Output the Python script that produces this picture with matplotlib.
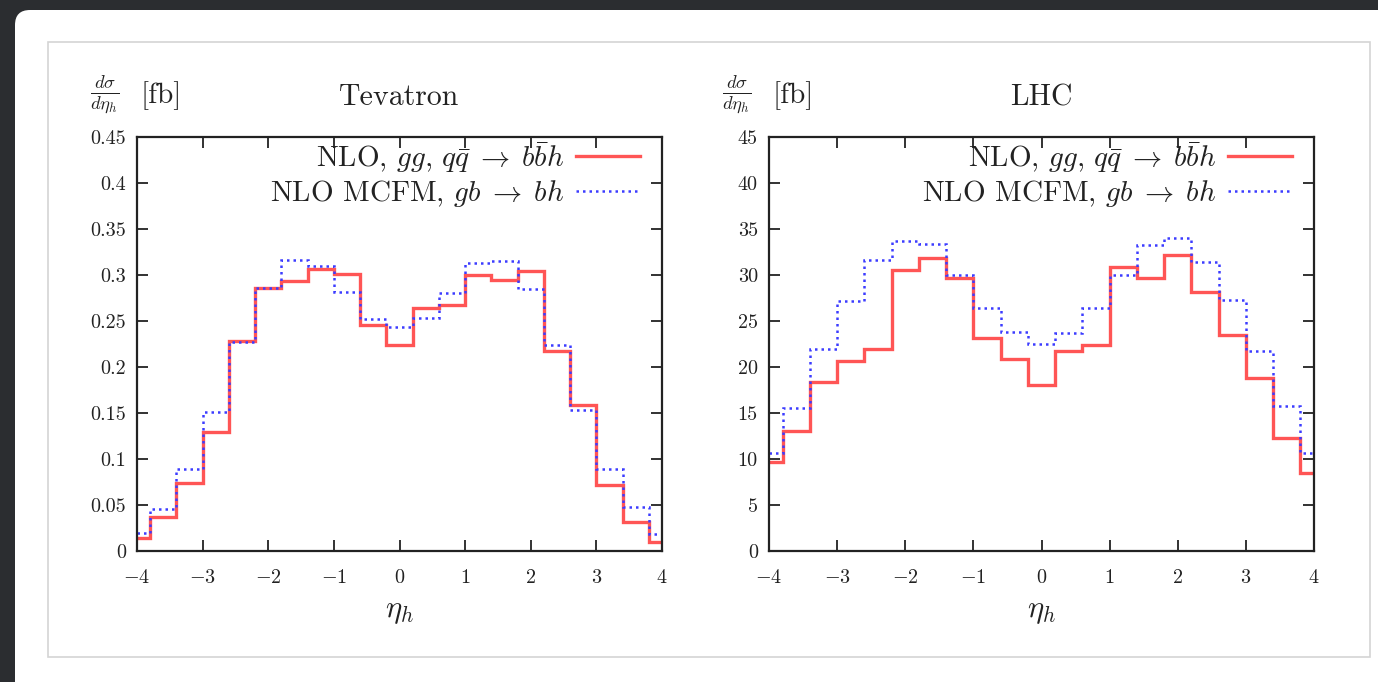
import matplotlib
matplotlib.use("Agg")
import matplotlib.pyplot as plt
from matplotlib.patches import FancyBboxPatch, Rectangle
from matplotlib.ticker import FuncFormatter

plt.rcParams['font.family'] = 'cmr10'
plt.rcParams['mathtext.fontset'] = 'cm'
plt.rcParams['axes.formatter.use_mathtext'] = True

# bin edges in eta_h (narrow bins at both ends)
edges = [-4, -3.8, -3.4, -3.0, -2.6, -2.2, -1.8, -1.4, -1.0, -0.6, -0.2,
         0.2, 0.6, 1.0, 1.4, 1.8, 2.2, 2.6, 3.0, 3.4, 3.8, 4]

# Tevatron, dsigma/deta_h [fb]
tev_nlo = [0.014, 0.037, 0.074, 0.129, 0.228, 0.286, 0.293, 0.307, 0.301, 0.246, 0.224,
           0.264, 0.267, 0.300, 0.295, 0.304, 0.217, 0.159, 0.072, 0.031, 0.010]
tev_mcfm = [0.020, 0.046, 0.089, 0.151, 0.227, 0.286, 0.316, 0.310, 0.282, 0.252, 0.243,
            0.253, 0.280, 0.313, 0.315, 0.285, 0.224, 0.153, 0.089, 0.048, 0.019]

# LHC, dsigma/deta_h [fb]
lhc_nlo = [9.7, 13.0, 18.4, 20.6, 22.0, 30.5, 31.9, 29.7, 23.1, 20.9, 18.0,
           21.7, 22.4, 30.9, 29.7, 32.2, 28.1, 23.5, 18.8, 12.3, 8.5]
lhc_mcfm = [10.7, 15.5, 22.0, 27.2, 31.6, 33.7, 33.4, 30.0, 26.4, 23.8, 22.5,
            23.7, 26.4, 30.0, 33.3, 34.0, 31.4, 27.3, 21.7, 15.8, 10.7]

xticks = [-4, -3, -2, -1, 0, 1, 2, 3, 4]
tev_yticks = [0, 0.05, 0.1, 0.15, 0.2, 0.25, 0.3, 0.35, 0.4, 0.45]
lhc_yticks = [0, 5, 10, 15, 20, 25, 30, 35, 40, 45]

label_nlo = r'NLO, $gg,\, q\bar{q} \;\rightarrow\; b\bar{b}h$'
label_mcfm = r'NLO MCFM, $gb \;\rightarrow\; bh$'

RED = '#ff5555'
BLUE = '#3c3cff'
INK = '#222222'

W, H = 1378, 682
fig = plt.figure(figsize=(W / 100, H / 100), dpi=100, facecolor='#2b2d30')

# slide card + inner frame (behind the axes)
card = FancyBboxPatch((0.15, -0.5), 14.0, 6.72 + 0.5,
                      boxstyle="round,pad=0,rounding_size=0.15",
                      transform=fig.dpi_scale_trans, facecolor='white',
                      edgecolor='none', zorder=-2)
fig.patches.append(card)
frame = Rectangle((0.48, 0.25), 13.22, 6.15, transform=fig.dpi_scale_trans,
                  facecolor='none', edgecolor='#d4d4d4', lw=1.2, zorder=-1)
fig.patches.append(frame)


def panel(rect, nlo, mcfm, yticks, title):
    x0, y0, w, h = rect
    ax = fig.add_axes([x0 / W, (H - y0 - h) / H, w / W, h / H])
    ax.patch.set_alpha(0)
    ax.stairs(nlo, edges, baseline=None, color=RED, lw=2.4, label=label_nlo)
    ax.stairs(mcfm, edges, baseline=None, color=BLUE, lw=1.8,
              linestyle=(0, (1, 1.6)), label=label_mcfm)
    ax.set_xlim(-4, 4)
    ax.set_ylim(yticks[0], yticks[-1])
    ax.set_xticks(xticks)
    ax.set_yticks(yticks)
    ax.xaxis.set_major_formatter(FuncFormatter(lambda v, p: '$%g$' % v))
    ax.yaxis.set_major_formatter(FuncFormatter(lambda v, p: '%g' % v))
    ax.tick_params(direction='in', top=True, right=True, length=8, width=1.3,
                   colors=INK, labelsize=14.5)
    ax.tick_params(axis='x', pad=13)
    ax.tick_params(axis='y', pad=8)
    for s in ax.spines.values():
        s.set_linewidth(1.6)
        s.set_color(INK)
    ax.set_xlabel(r'$\eta_h$', fontsize=22, color=INK, labelpad=8)
    hx = 1 - 22 / w
    ax.legend(loc='upper right', bbox_to_anchor=(hx, 1 - 3 / h),
              frameon=False, markerfirst=False, fontsize=21,
              handlelength=2.2, handletextpad=0.4, labelspacing=0.12,
              borderaxespad=0, borderpad=0, labelcolor=INK)
    ax.text(0.5, 1.095, title, transform=ax.transAxes, ha='center', va='center',
            fontsize=21.5, color=INK)
    ax.text(-47 / w, 1.1, r'$\frac{d\sigma}{d\eta_h}$', transform=ax.transAxes,
            ha='left', va='center', fontsize=19, color=INK)
    ax.text(4 / w, 1.1, '[fb]', transform=ax.transAxes, ha='left', va='center',
            fontsize=21, color=INK)
    return ax


panel((137, 137, 525, 414), tev_nlo, tev_mcfm, tev_yticks, 'Tevatron')
panel((769, 137, 545, 414), lhc_nlo, lhc_mcfm, lhc_yticks, 'LHC')

fig.savefig('out.png', dpi=100, facecolor=fig.get_facecolor())
